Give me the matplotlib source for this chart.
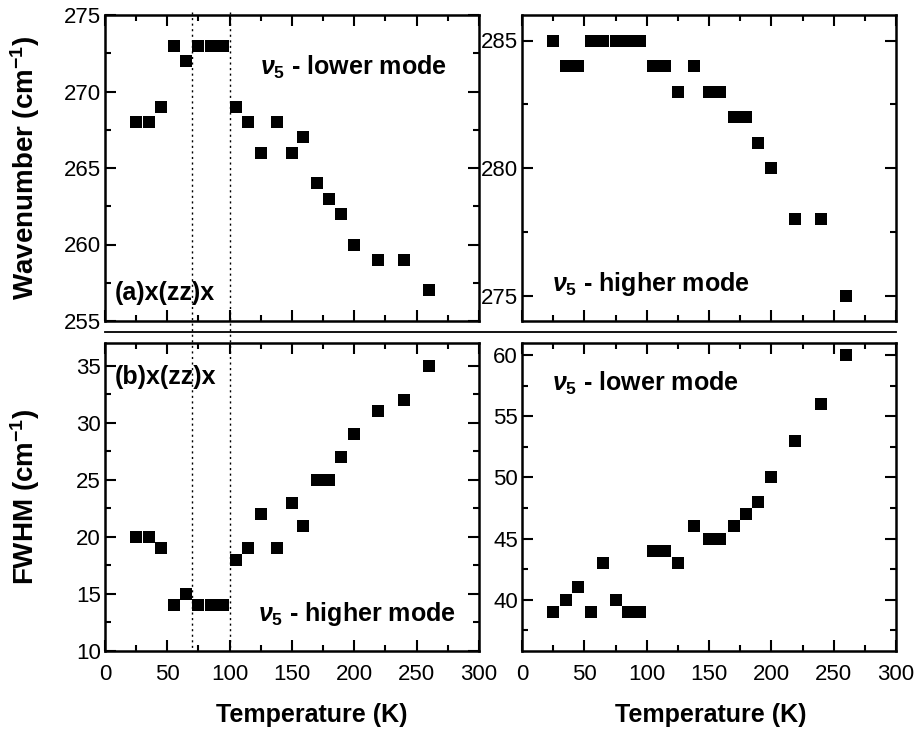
import matplotlib
matplotlib.use('Agg')
import matplotlib.pyplot as plt
import matplotlib.transforms as mtransforms
from matplotlib.lines import Line2D
from matplotlib.ticker import MultipleLocator

plt.rcParams['font.family'] = ['Liberation Sans', 'DejaVu Sans']
plt.rcParams['mathtext.fontset'] = 'custom'
plt.rcParams['mathtext.it'] = 'Liberation Sans:italic:bold'
plt.rcParams['mathtext.bf'] = 'Liberation Sans:bold'
plt.rcParams['mathtext.rm'] = 'Liberation Sans:bold'

# temperatures (K), same for every panel
temps = [25, 35, 45, 55, 65, 75, 85, 95, 105, 115, 125, 138, 150, 159, 170, 180, 189, 200, 219, 240, 260]

# wavenumber (cm-1)
wn_lower = [268, 268, 269, 273, 272, 273, 273, 273, 269, 268, 266, 268, 266, 267, 264, 263, 262, 260, 259, 259, 257]
wn_higher = [285, 284, 284, 285, 285, 285, 285, 285, 284, 284, 283, 284, 283, 283, 282, 282, 281, 280, 278, 278, 275]

# FWHM (cm-1)
fw_higher = [20, 20, 19, 14, 15, 14, 14, 14, 18, 19, 22, 19, 23, 21, 25, 25, 27, 29, 31, 32, 35]
fw_lower = [39, 40, 41, 39, 43, 40, 39, 39, 44, 44, 43, 46, 45, 45, 46, 47, 48, 50, 53, 56, 60]

# transition temperatures marked with dotted lines
t_marks = [70, 100]

W, H = 920, 734
fig = plt.figure(figsize=(W / 100, H / 100), dpi=100)

def fx(px):
    return px / W

def fy(px):
    return 1 - px / H

lx0, rx0, aw = fx(105), fx(522), fx(374)
top_y0, top_h = fy(321), (321 - 15) / H
bot_y0, bot_h = fy(651), (651 - 343) / H

ax_tl = fig.add_axes([lx0, top_y0, aw, top_h])
ax_tr = fig.add_axes([rx0, top_y0, aw, top_h])
ax_bl = fig.add_axes([lx0, bot_y0, aw, bot_h])
ax_br = fig.add_axes([rx0, bot_y0, aw, bot_h])

panels = [
    (ax_tl, wn_lower, (255, 275), 5),
    (ax_tr, wn_higher, (274, 286), 5),
    (ax_bl, fw_higher, (10, 37), 5),
    (ax_br, fw_lower, (35.8, 61), 5),
]

for ax, vals, ylim, step in panels:
    ax.plot(temps, vals, 's', color='black', markersize=8, markeredgewidth=0)
    ax.set_xlim(0, 300)
    ax.set_ylim(*ylim)
    ax.xaxis.set_major_locator(MultipleLocator(50))
    ax.xaxis.set_minor_locator(MultipleLocator(25))
    ax.yaxis.set_major_locator(MultipleLocator(step))
    ax.yaxis.set_minor_locator(MultipleLocator(step / 2))
    ax.tick_params(which='both', direction='in', top=True, right=True, width=1.5, labelsize=16)
    ax.tick_params(which='major', length=8)
    ax.tick_params(which='minor', length=4.5)
    ax.tick_params(axis='x', pad=9)
    ax.tick_params(axis='y', pad=3)
    for s in ax.spines.values():
        s.set_linewidth(1.8)

for ax in (ax_tl, ax_tr):
    ax.tick_params(axis='x', labelbottom=False)

for ax in (ax_bl, ax_br):
    ax.set_xlabel('Temperature (K)', fontsize=18, fontweight='bold')
ax_bl.xaxis.set_label_coords(0.553, -0.17)
ax_br.xaxis.set_label_coords(0.505, -0.17)

ax_tl.set_ylabel('Wavenumber (cm$^{-1}$)', fontsize=20, fontweight='bold')
ax_bl.set_ylabel('FWHM (cm$^{-1}$)', fontsize=20, fontweight='bold')
ax_tl.yaxis.set_label_coords(-0.168, 0.5)
ax_bl.yaxis.set_label_coords(-0.168, 0.5)

txt = dict(fontsize=18, fontweight='bold', va='center', ha='left')
ax_tl.text(0.415, 0.83, r'$\mathit{\nu}_\mathbf{5}$ - lower mode', transform=ax_tl.transAxes, **txt)
ax_tl.text(0.025, 0.09, '(a)x(zz)x', transform=ax_tl.transAxes, **txt)
ax_tr.text(0.08, 0.12, r'$\mathit{\nu}_\mathbf{5}$ - higher mode', transform=ax_tr.transAxes, **txt)
ax_bl.text(0.025, 0.89, '(b)x(zz)x', transform=ax_bl.transAxes, **txt)
ax_bl.text(0.41, 0.12, r'$\mathit{\nu}_\mathbf{5}$ - higher mode', transform=ax_bl.transAxes, **txt)
ax_br.text(0.08, 0.87, r'$\mathit{\nu}_\mathbf{5}$ - lower mode', transform=ax_br.transAxes, **txt)

# separator between rows
fig.add_artist(Line2D([fx(105), fx(896)], [fy(332), fy(332)], color='black', linewidth=1.3))

# dotted lines through both left panels
trans = mtransforms.blended_transform_factory(ax_tl.transData, fig.transFigure)
for t in t_marks:
    fig.add_artist(Line2D([t, t], [fy(12), fy(651)], transform=trans, color='black',
                          linestyle=(0, (1.5, 2.5)), linewidth=1.0))

fig.savefig('out.png', dpi=100)
